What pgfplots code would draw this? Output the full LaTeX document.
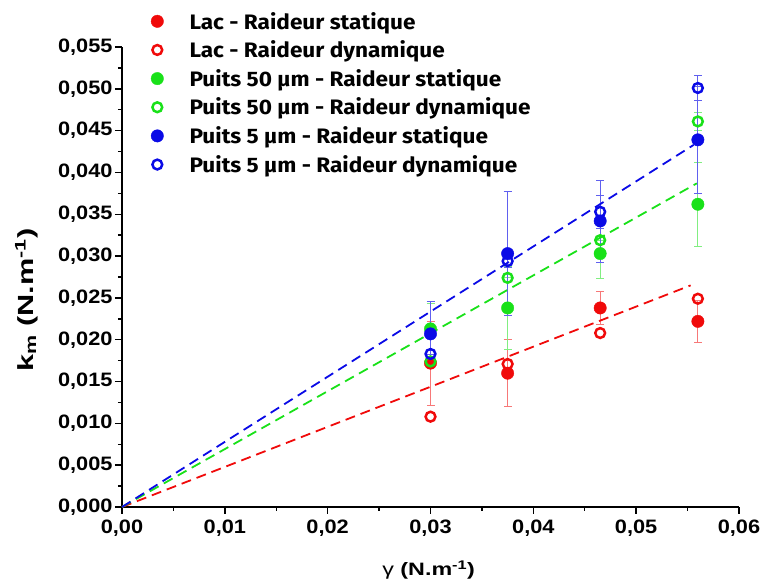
\documentclass[border=0pt]{standalone}
\usepackage{pgfplots}
\pgfplotsset{compat=1.18}
\usepackage{fontspec}
\setmainfont{Liberation Sans}
\newfontfamily\tickfont{Liberation Sans}[FakeStretch=1.12]
\newfontfamily\ylabfont{Liberation Sans}[FakeStretch=1.4]
\newfontfamily\xlabfont{Liberation Sans}[FakeStretch=1.3]
\newfontfamily\legfont{Fira Sans}[FakeStretch=1.08]
\definecolor{cR}{RGB}{240,10,10}
\definecolor{cG}{RGB}{25,225,25}
\definecolor{cB}{RGB}{10,10,230}
\begin{document}
\begin{tikzpicture}
\useasboundingbox (0,0) rectangle (763bp,584bp);
\begin{axis}[
  at={(122bp,77bp)}, anchor=south west,
  scale only axis, width=617bp, height=460bp,
  xmin=0, xmax=0.06, ymin=0, ymax=0.055,
  axis x line=bottom, axis y line=left,
  axis line style={line width=1.6bp, -},
  xtick={0,0.01,0.02,0.03,0.04,0.05,0.06},
  ytick={0,0.005,0.010,0.015,0.020,0.025,0.030,0.035,0.040,0.045,0.050,0.055},
  minor x tick num=1, minor y tick num=1,
  tick align=outside,
  major tick length=7bp, minor tick length=4bp,
  every tick/.style={line width=1.4bp, black},
  scaled ticks=false,
  /pgf/number format/use comma,
  /pgf/number format/fixed,
  /pgf/number format/fixed zerofill,
  /pgf/number format/assume math mode=true,
  xticklabel style={/pgf/number format/precision=2, yshift=-2bp},
  yticklabel style={/pgf/number format/precision=3, xshift=1bp},
  ticklabel style={font=\tickfont\bfseries\fontsize{19.5}{19.5}\selectfont},
  xlabel={{\mdseries γ} (N.m\textsuperscript{-1})},
  ylabel={k\textsubscript{m} (N.m\textsuperscript{-1})},
  xlabel style={font=\xlabfont\bfseries\fontsize{18}{22}\selectfont, at={(rel axis cs:0.497,-0.137)}, anchor=center},
  ylabel style={font=\ylabfont\bfseries\fontsize{22}{26}\selectfont, at={(rel axis cs:-0.155,0.45)}, anchor=center},
  legend style={draw=none, fill=none, at={(rel axis cs:0.042,1.085)}, anchor=north west,
    font=\legfont\bfseries\fontsize{21}{21}\selectfont, row sep=6.2bp, column sep=24bp},
  legend cell align=left,
  clip=false,
]
% Lac statique
\addplot[only marks, mark=*, color=cR, mark options={fill=cR, draw=cR}, mark size=6.2bp,
  error bars/.cd, y dir=both, y explicit,
  error bar style={line width=0.8bp, cR!55},
  error mark options={rotate=90, mark size=4bp, line width=0.8bp, cR!55}]
  table[x=x, y=y, y error=e]{
  x y e
  0.0300 0.0172 0.0050
  0.0375 0.0160 0.0040
  0.0465 0.0238 0.0020
  0.0560 0.0222 0.0025
};
\addlegendentry{Lac - Raideur statique}
% Lac dynamique
\addplot[only marks, mark=o, color=cR, mark options={draw=cR, line width=2.5bp}, mark size=4.9bp]
  table[x=x, y=y]{
  x y
  0.0300 0.0108
  0.0375 0.0171
  0.0465 0.0208
  0.0560 0.0249
};
\addlegendentry{Lac - Raideur dynamique}
% Puits 50 statique
\addplot[only marks, mark=*, color=cG, mark options={fill=cG, draw=cG}, mark size=6.2bp,
  error bars/.cd, y dir=both, y explicit,
  error bar style={line width=0.8bp, cG!55},
  error mark options={rotate=90, mark size=4bp, line width=0.8bp, cG!55}]
  table[x=x, y=y, y error=e]{
  x y e
  0.0300 0.0213 0.0030
  0.0375 0.0238 0.0050
  0.0465 0.0303 0.0030
  0.0560 0.0362 0.0050
};
\addlegendentry{Puits 50 µm - Raideur statique}
% Puits 50 dynamique
\addplot[only marks, mark=o, color=cG, mark options={draw=cG, line width=2.5bp}, mark size=4.9bp,
  error bars/.cd, y dir=both, y explicit,
  error bar style={line width=0.8bp, cG!55},
  error mark options={rotate=90, mark size=4bp, line width=0.8bp, cG!55}]
  table[x=x, y=y, y error=e]{
  x y e
  0.0300 0.0174 0.0000
  0.0375 0.0274 0.0000
  0.0465 0.0319 0.0000
  0.0560 0.0461 0.0011
};
\addlegendentry{Puits 50 µm - Raideur dynamique}
% Puits 5 statique
\addplot[only marks, mark=*, color=cB, mark options={fill=cB, draw=cB}, mark size=6.2bp,
  error bars/.cd, y dir=both, y explicit,
  error bar style={line width=0.8bp, cB!65},
  error mark options={rotate=90, mark size=4bp, line width=0.8bp, cB!65}]
  table[x=x, y=y, y error=e]{
  x y e
  0.0300 0.0207 0.0039
  0.0375 0.0303 0.0074
  0.0465 0.0342 0.0049
  0.0560 0.0439 0.0064
};
\addlegendentry{Puits 5 µm - Raideur statique}
% Puits 5 dynamique
\addplot[only marks, mark=o, color=cB, mark options={draw=cB, line width=2.5bp}, mark size=4.9bp,
  error bars/.cd, y dir=both, y explicit,
  error bar style={line width=0.8bp, cB!65},
  error mark options={rotate=90, mark size=4bp, line width=0.8bp, cB!65}]
  table[x=x, y=y, y error=e]{
  x y e
  0.0300 0.0183 0.0000
  0.0375 0.0294 0.0007
  0.0465 0.0353 0.0020
  0.0560 0.0501 0.0015
};
\addlegendentry{Puits 5 µm - Raideur dynamique}
% fitted lines
\addplot[forget plot, cR, line width=1.8bp, dash pattern=on 10bp off 6bp] coordinates {(0,0) (0.0553,0.0265)};
\addplot[forget plot, cG, line width=1.8bp, dash pattern=on 10bp off 6bp] coordinates {(0,0) (0.0559,0.0387)};
\addplot[forget plot, cB, line width=1.8bp, dash pattern=on 10bp off 6bp] coordinates {(0,0) (0.0556,0.0433)};
\end{axis}
\end{tikzpicture}
\end{document}
